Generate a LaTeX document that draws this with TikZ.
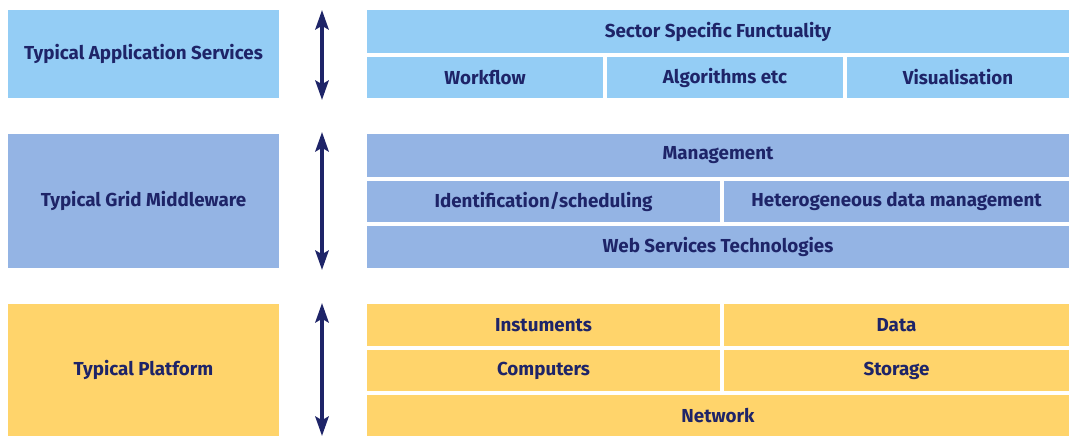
\documentclass[tikz,border=0pt]{standalone}
\usepackage{fontspec}
\setmainfont{Fira Sans}
\usetikzlibrary{arrows.meta}
\definecolor{appblue}{HTML}{94CDF5}
\definecolor{midblue}{HTML}{94B4E4}
\definecolor{platyellow}{HTML}{FFD46B}
\definecolor{ink}{HTML}{1E2468}

\tikzset{
  cell/.style={inner sep=0pt, outer sep=0pt, text=ink,
    font=\fontsize{10.7}{12}\selectfont\bfseries},
  layerarrow/.style={ink, line width=2.4pt,
    {Stealth[length=11pt,width=7.5pt,inset=2pt]}-{Stealth[length=11pt,width=7.5pt,inset=2pt]}}
}

\begin{document}
\begin{tikzpicture}[x=0.02cm, y=-0.02cm]
            \useasboundingbox (0,0) rectangle (1069,436);

            % left column
            \node[cell, fill=appblue, minimum width=5.42cm, minimum height=1.76cm] (App) at (143.5,54) {Typical Application Services};
            \node[cell, fill=midblue, minimum width=5.42cm, minimum height=2.68cm] (Mid) at (143.5,201) {Typical Grid Middleware};
            \node[cell, fill=platyellow, minimum width=5.42cm, minimum height=2.64cm] (Plat) at (143.5,370) {Typical Platform};

            % application services
            \node[cell, fill=appblue, minimum width=14.04cm, minimum height=0.86cm] (Sector) at (718,31.5) {Sector Specific Functuality};
            \node[cell, fill=appblue, minimum width=4.72cm, minimum height=0.82cm] (Work) at (485,77.5) {Workflow};
            \node[cell, fill=appblue, minimum width=4.72cm, minimum height=0.82cm] (Algo) at (725,77.5) {Algorithms etc};
            \node[cell, fill=appblue, minimum width=4.44cm, minimum height=0.82cm] (Vis) at (958,77.5) {Visualisation};

            % middleware
            \node[cell, fill=midblue, minimum width=14.04cm, minimum height=0.86cm] (Manage) at (718,155.5) {Management};
            \node[cell, fill=midblue, minimum width=7.06cm, minimum height=0.82cm] (Ident) at (543.5,201.5) {Identification/scheduling};
            \node[cell, fill=midblue, minimum width=6.90cm, minimum height=0.82cm] (Hetero) at (896.5,201.5) {Heterogeneous data management};
            \node[cell, fill=midblue, minimum width=14.04cm, minimum height=0.84cm] (WebServ) at (718,247) {Web Services Technologies};

            % platform
            \node[cell, fill=platyellow, minimum width=7.06cm, minimum height=0.84cm] (Instr) at (543.5,325) {Instuments};
            \node[cell, fill=platyellow, minimum width=6.90cm, minimum height=0.84cm] (Data) at (896.5,325) {Data};
            \node[cell, fill=platyellow, minimum width=7.06cm, minimum height=0.82cm] (Comp) at (543.5,370.5) {Computers};
            \node[cell, fill=platyellow, minimum width=6.90cm, minimum height=0.82cm] (Store) at (896.5,370.5) {Storage};
            \node[cell, fill=platyellow, minimum width=14.04cm, minimum height=0.82cm] (Net) at (718,415.5) {Network};

            % arrows between the layers
            \coordinate (A1) at (322,10);
            \coordinate (A2) at (322,100);
            \coordinate (M1) at (322,132);
            \coordinate (M2) at (322,270);
            \coordinate (P1) at (322,303);
            \coordinate (P2) at (322,436);

            \draw[layerarrow] (A1) -- (A2);
            \draw[layerarrow] (M1) -- (M2);
            \draw[layerarrow] (P1) -- (P2);

        \end{tikzpicture}
\end{document}
